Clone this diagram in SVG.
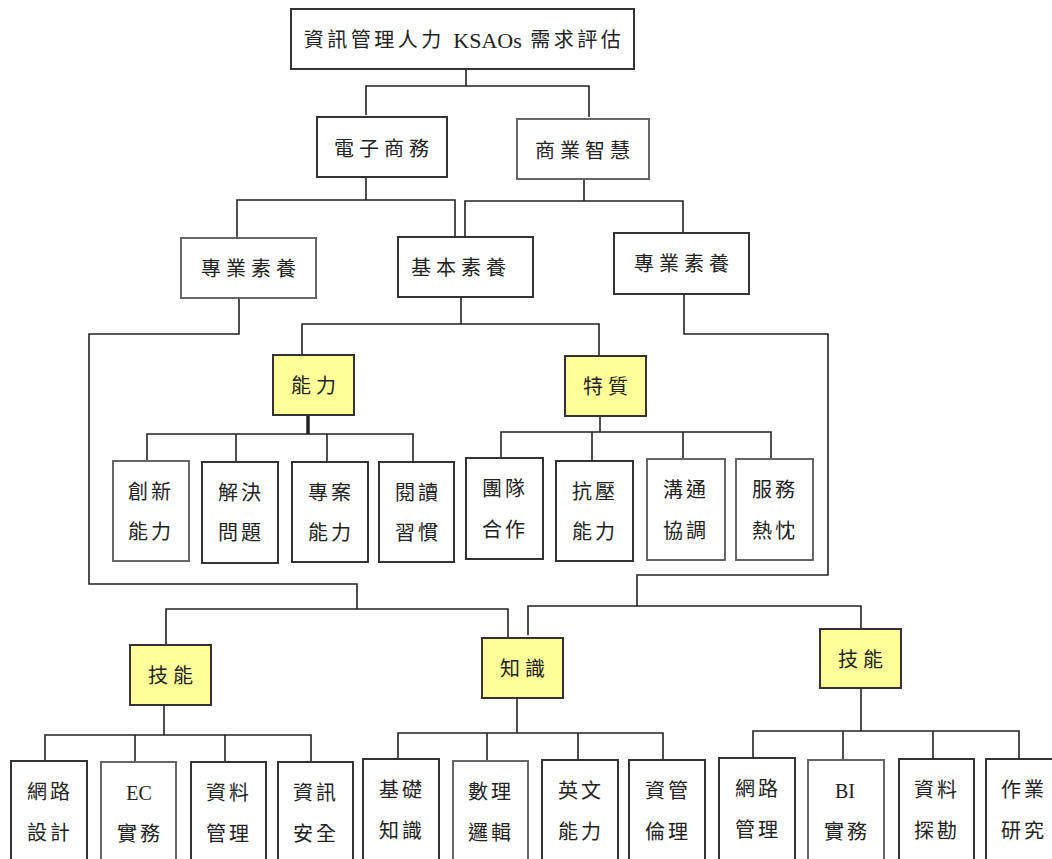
<svg xmlns="http://www.w3.org/2000/svg" width="1052" height="859" viewBox="0 0 1052 859">
<style>
.box{fill:#fff;stroke:#333;stroke-width:2}
.lbox{fill:#fff;stroke:#666;stroke-width:2}
.ybox{fill:#ffff99;stroke:#333;stroke-width:2}
.t{font-family:"Liberation Serif","Noto Sans CJK TC",serif;font-size:20px;fill:#222;text-anchor:middle;dominant-baseline:central;letter-spacing:5px}
.t2{font-family:"Liberation Serif","Noto Sans CJK TC",serif;font-size:20px;fill:#222;text-anchor:middle;dominant-baseline:central;letter-spacing:3px}
.c{fill:none;stroke:#222;stroke-width:1.6}
</style>
<rect width="1052" height="859" fill="#fff"/>
<g id="connectors">
<polyline class="c" points="466,69 466,86"/>
<polyline class="c" points="366,115 366,86 589,86 589,117"/>
<polyline class="c" points="366,177 366,200"/>
<polyline class="c" points="237,237 237,200 455,200 455,236"/>
<polyline class="c" points="584,179 584,201"/>
<polyline class="c" points="465,236 465,201 683,201 683,233"/>
<polyline class="c" points="239,298 239,334 89,334 89,584 357,584 357,609"/>
<polyline class="c" points="166,645 166,609 508,609 508,638"/>
<polyline class="c" points="461,297 461,324"/>
<polyline class="c" points="302,354 302,324 599,324 599,356"/>
<polyline class="c" points="684,294 684,334 828,334 828,575 637,575 637,606"/>
<polyline class="c" points="528,635 528,606 861,606 861,629"/>
<polyline class="c" points="308,415 308,434" style="stroke-width:3.5"/>
<polyline class="c" points="147,462 147,434 413,434 413,462"/>
<polyline class="c" points="236,434 236,462"/>
<polyline class="c" points="327,434 327,462"/>
<polyline class="c" points="600,416 600,432"/>
<polyline class="c" points="501,458 501,432 771,432 771,459"/>
<polyline class="c" points="592,432 592,461"/>
<polyline class="c" points="683,432 683,459"/>
<polyline class="c" points="164,705 164,735"/>
<polyline class="c" points="45,762 45,735 311,735 311,762"/>
<polyline class="c" points="135,735 135,762"/>
<polyline class="c" points="225,735 225,762"/>
<polyline class="c" points="517,698 517,733"/>
<polyline class="c" points="398,759 398,733 663,733 663,760"/>
<polyline class="c" points="487,733 487,761"/>
<polyline class="c" points="578,733 578,760"/>
<polyline class="c" points="861,688 861,731"/>
<polyline class="c" points="753,758 753,731 1019,731 1019,759"/>
<polyline class="c" points="843,731 843,760"/>
<polyline class="c" points="933,731 933,759"/>
</g>
<g id="n-root"><rect class="box" x="291" y="9" width="343" height="60"/><text class="t" x="464" y="40" style="letter-spacing:3.5px">資訊管理人力 <tspan style="letter-spacing:0;font-size:22px">KSAOs</tspan> 需求評估</text></g>
<g id="n-ec"><rect class="box" x="317" y="117" width="130" height="60"/><text class="t" x="384" y="149">電子商務</text></g>
<g id="n-bi"><rect class="lbox" x="517" y="119" width="132" height="60"/><text class="t" x="585" y="151">商業智慧</text></g>
<g id="n-pro1"><rect class="lbox" x="181" y="238" width="135" height="60"/><text class="t" x="251" y="269">專業素養</text></g>
<g id="n-basic"><rect class="box" x="398" y="237" width="135" height="60"/><text class="t" x="461" y="268">基本素養</text></g>
<g id="n-pro2"><rect class="box" x="614" y="233" width="135" height="61"/><text class="t" x="684" y="264">專業素養</text></g>
<g id="n-ability"><rect class="ybox" x="273" y="355" width="81" height="60"/><text class="t" x="316" y="386">能力</text></g>
<g id="n-trait"><rect class="ybox" x="565" y="356" width="81" height="60"/><text class="t" x="608" y="387">特質</text></g>
<g id="n-a1"><rect class="lbox" x="113" y="461" width="76" height="100"/><text class="t2" x="151" y="492">創新</text><text class="t2" x="151" y="532">能力</text></g>
<g id="n-a2"><rect class="box" x="202" y="462" width="76" height="101"/><text class="t2" x="241" y="493">解決</text><text class="t2" x="241" y="533">問題</text></g>
<g id="n-a3"><rect class="box" x="292" y="462" width="76" height="100"/><text class="t2" x="331" y="493">專案</text><text class="t2" x="331" y="533">能力</text></g>
<g id="n-a4"><rect class="box" x="379" y="462" width="75" height="100"/><text class="t2" x="418" y="493">閱讀</text><text class="t2" x="418" y="533">習慣</text></g>
<g id="n-t1"><rect class="box" x="466" y="458" width="77" height="101"/><text class="t2" x="505" y="489">團隊</text><text class="t2" x="505" y="530">合作</text></g>
<g id="n-t2"><rect class="box" x="556" y="461" width="77" height="100"/><text class="t2" x="595" y="492">抗壓</text><text class="t2" x="595" y="532">能力</text></g>
<g id="n-t3"><rect class="lbox" x="647" y="459" width="78" height="101"/><text class="t2" x="686" y="490">溝通</text><text class="t2" x="686" y="531">協調</text></g>
<g id="n-t4"><rect class="lbox" x="736" y="459" width="77" height="101"/><text class="t2" x="775" y="490">服務</text><text class="t2" x="775" y="531">熱忱</text></g>
<g id="n-skill1"><rect class="ybox" x="130" y="645" width="81" height="60"/><text class="t" x="173" y="676">技能</text></g>
<g id="n-know"><rect class="ybox" x="482" y="638" width="81" height="60"/><text class="t" x="525" y="669">知識</text></g>
<g id="n-skill2"><rect class="ybox" x="820" y="629" width="81" height="59"/><text class="t" x="863" y="660">技能</text></g>
<g id="n-s1"><rect class="box" x="11" y="761" width="76" height="102"/><text class="t2" x="50" y="792">網路</text><text class="t2" x="50" y="833">設計</text></g>
<g id="n-s2"><rect class="lbox" x="101" y="762" width="75" height="102"/><text class="t2" x="139" y="793" style="letter-spacing:0">EC</text><text class="t2" x="140" y="834">實務</text></g>
<g id="n-s3"><rect class="box" x="191" y="762" width="75" height="102"/><text class="t2" x="229" y="793">資料</text><text class="t2" x="229" y="834">管理</text></g>
<g id="n-s4"><rect class="box" x="278" y="762" width="75" height="102"/><text class="t2" x="316" y="793">資訊</text><text class="t2" x="316" y="834">安全</text></g>
<g id="n-k1"><rect class="box" x="363" y="759" width="76" height="104"/><text class="t2" x="402" y="790">基礎</text><text class="t2" x="402" y="831">知識</text></g>
<g id="n-k2"><rect class="lbox" x="453" y="761" width="75" height="102"/><text class="t2" x="491" y="792">數理</text><text class="t2" x="491" y="833">邏輯</text></g>
<g id="n-k3"><rect class="box" x="542" y="760" width="76" height="103"/><text class="t2" x="581" y="791">英文</text><text class="t2" x="581" y="832">能力</text></g>
<g id="n-k4"><rect class="box" x="629" y="760" width="76" height="103"/><text class="t2" x="668" y="791">資管</text><text class="t2" x="668" y="832">倫理</text></g>
<g id="n-b1"><rect class="box" x="719" y="758" width="76" height="105"/><text class="t2" x="758" y="789">網路</text><text class="t2" x="758" y="830">管理</text></g>
<g id="n-b2"><rect class="lbox" x="808" y="760" width="76" height="103"/><text class="t2" x="845" y="791" style="letter-spacing:0">BI</text><text class="t2" x="847" y="832">實務</text></g>
<g id="n-b3"><rect class="box" x="899" y="759" width="75" height="104"/><text class="t2" x="937" y="790">資料</text><text class="t2" x="937" y="831">探勘</text></g>
<g id="n-b4"><rect class="box" x="986" y="759" width="76" height="104"/><text class="t2" x="1024" y="790">作業</text><text class="t2" x="1024" y="831">研究</text></g>
</svg>
